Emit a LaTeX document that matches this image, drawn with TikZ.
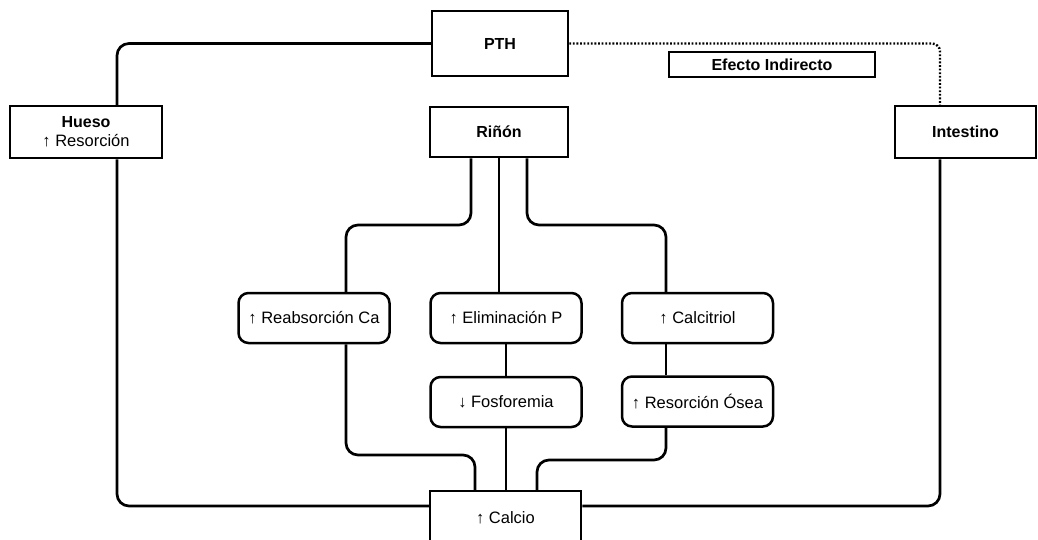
\documentclass[tikz,border=0pt]{standalone}
\usepackage{fontspec}
\setmainfont{Liberation Sans}
\newcommand\fsz{\fontsize{16.5}{19}\selectfont}
\newcommand\fszb{\fontsize{16}{19}\selectfont\bfseries}
\begin{document}
\begin{tikzpicture}[x=1pt,y=-1pt,
  box/.style={draw,line width=2.5pt,rectangle,inner sep=0pt,align=center,font=\fsz},
  bbox/.style={box,font=\fszb},
  rbox/.style={box,rounded corners=10pt,minimum width=151pt,minimum height=50pt},
  conn/.style={line width=2.7pt,rounded corners=12pt},
  dotconn/.style={line width=2.4pt,dash pattern=on 1.8pt off 1.8pt,rounded corners=8pt}]
\useasboundingbox (0,0) rectangle (1038,539);
\clip (0,0) rectangle (1038,539);
% nodes
\node[bbox,minimum width=136pt,minimum height=65pt] (pth) at (500,43.5) {PTH};
\node[bbox,minimum width=138pt,minimum height=50pt] (rinon) at (499,132) {Riñón};
\node[box,minimum width=152pt,minimum height=52pt] (hueso) at (86,132) {{\fszb Hueso}\\↑ Resorción};
\node[bbox,minimum width=141pt,minimum height=52pt] (intestino) at (965.5,132) {Intestino};
\node[bbox,minimum width=206pt,minimum height=25pt] (efecto) at (772,64.5) {Efecto Indirecto};
\node[rbox] (reab) at (314,318) {↑ Reabsorción Ca};
\node[rbox] (elim) at (506,318) {↑ Eliminación P};
\node[rbox] (calcitriol) at (697.5,318) {↑ Calcitriol};
\node[rbox] (fosfo) at (506,402) {↓ Fosforemia};
\node[rbox] (resorc) at (697.5,401.5) {↑ Resorción Ósea};
\node[box,minimum width=151pt,minimum height=54pt] (calcio) at (505.5,518) {↑ Calcio};
% helper coordinates
\coordinate (hx) at (117,0);
\coordinate (ix) at (940,0);
\coordinate (rl) at (471,0);
\coordinate (rm) at (499,0);
\coordinate (rr) at (527,0);
\coordinate (ax) at (346,0);
\coordinate (cx) at (666,0);
\coordinate (cl) at (475,0);
\coordinate (cr) at (537,0);
\coordinate (ymid) at (0,225);
\coordinate (yl) at (0,455);
\coordinate (yr) at (0,460);
\coordinate (yb) at (0,506);
% connectors
\draw[conn] (hueso.north -| hx) |- (pth.west);
\draw[conn] (hueso.south -| hx) |- (calcio.west |- yb);
\draw[conn] (intestino.south -| ix) |- (calcio.east |- yb);
\draw[dotconn] (pth.east) -| (intestino.north -| ix);
\draw[conn] (rinon.south -| rl) -- (rl |- ymid) -| (reab.north -| ax);
\draw[conn] (rinon.south -| rm) -- (elim.north -| rm);
\draw[conn] (rinon.south -| rr) -- (rr |- ymid) -| (calcitriol.north -| cx);
\draw[conn] (elim.south) -- (fosfo.north);
\draw[conn] (calcitriol.south -| cx) -- (resorc.north -| cx);
\draw[conn] (reab.south -| ax) -- (ax |- yl) -| (calcio.north -| cl);
\draw[conn] (fosfo.south) -- (calcio.north -| fosfo.south);
\draw[conn] (resorc.south -| cx) -- (cx |- yr) -| (calcio.north -| cr);
\end{tikzpicture}
\end{document}
